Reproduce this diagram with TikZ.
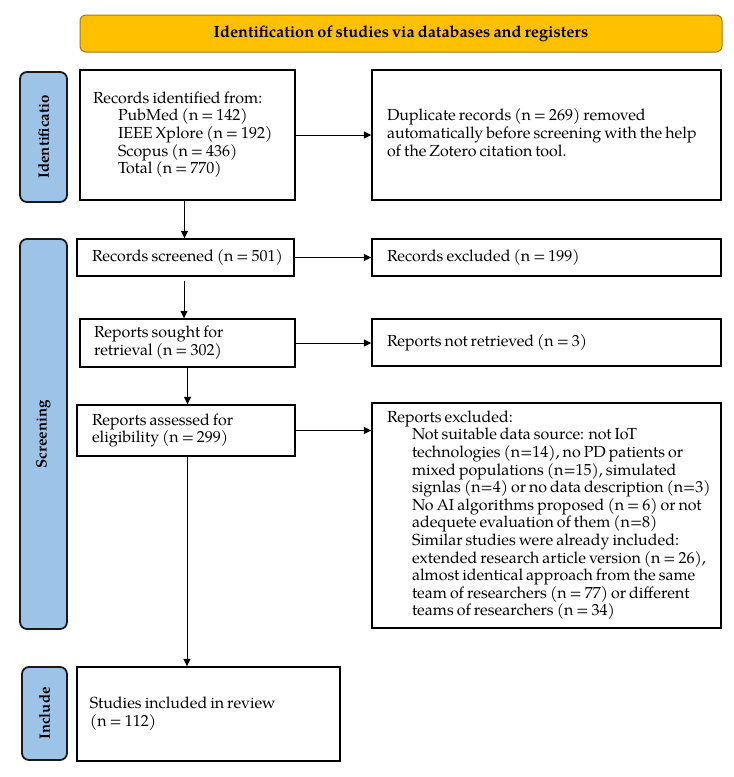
\documentclass[tikz,border=0pt]{standalone}
\usepackage{fontspec}
\setmainfont{texgyrepagella}[Extension=.otf,UprightFont=*-regular,BoldFont=*-bold,ItalicFont=*-italic,BoldItalicFont=*-bolditalic,WordSpace={0.75,0.2,0.2}]
\usetikzlibrary{arrows.meta}
\definecolor{topyellow}{HTML}{FFC000}
\definecolor{topedge}{HTML}{A07A10}
\definecolor{sideblue}{HTML}{9DC3E6}
\definecolor{sideedge}{HTML}{1A1A1A}
\tikzset{
  box/.style={draw=black, line width=1.4pt, fill=white, inner ysep=0pt, inner xsep=0pt,
    font=\fontsize{16}{17.6}\selectfont},
  sidebar/.style={draw=sideedge, fill=sideblue, line width=1.8pt, rounded corners=7pt,
    inner sep=0pt, font=\bfseries\fontsize{15}{17}\selectfont},
  topbar/.style={draw=topedge, fill=topyellow, line width=1pt, rounded corners=6pt,
    inner sep=0pt, font=\bfseries\fontsize{16.3}{18}\selectfont},
  arr/.style={line width=1pt, -{Triangle[length=7.5pt,width=7pt]}},
}
\newcommand{\ind}{\hspace*{25pt}}
% #1 box width, #2 left pad, #3 lines
\newcommand{\tb}[3]{\makebox[#1][l]{\hspace*{#2}\begin{tabular}{@{}l@{}}#3\end{tabular}}}
\begin{document}
\begin{tikzpicture}[x=1pt,y=-1pt]
\useasboundingbox (0,0) rectangle (734,777);
% top bar
\node[topbar, minimum width=642pt, minimum height=37pt] (top) at (401,33.5) {Identification of studies via databases and registers};
% side bars
\node[sidebar, minimum width=47pt, minimum height=130pt] (sid) at (43.5,137) {\rotatebox{90}{Identificatio}};
\node[sidebar, minimum width=47pt, minimum height=390pt] (ssc) at (43.5,434) {\rotatebox{90}{Screening}};
\node[sidebar, minimum width=45pt, minimum height=93pt] (sin) at (44.5,713.5) {\rotatebox{90}{Include}};
% boxes
\node[box, minimum width=215pt, minimum height=130pt] (rec) at (187.5,135)
  {\tb{215pt}{13pt}{Records identified from:\\ \ind PubMed (n = 142)\\ \ind IEEE Xplore (n = 192)\\ \ind Scopus (n = 436)\\ \ind Total (n = 770)}};
\node[box, minimum width=349pt, minimum height=130pt] (dup) at (546.5,135)
  {\tb{349pt}{15pt}{Duplicate records (n = 269) removed\\ automatically before screening with the help\\ of the Zotero citation tool.}};
\node[box, minimum width=217pt, minimum height=37pt] (scr) at (185.5,257.5)
  {\tb{217pt}{15pt}{Records screened (n = 501)}};
\node[box, minimum width=349pt, minimum height=37pt] (rexc) at (546.5,257.5)
  {\tb{349pt}{15pt}{Records excluded (n = 199)}};
\node[box, minimum width=215pt, minimum height=48pt] (sought) at (187.5,343)
  {\tb{215pt}{14pt}{Reports sought for\\ retrieval (n = 302)}};
\node[box, minimum width=349pt, minimum height=47pt] (nret) at (546.5,342.5)
  {\tb{349pt}{15pt}{Reports not retrieved (n = 3)}};
\node[box, minimum width=218pt, minimum height=51pt] (assess) at (186,430.5)
  {\tb{218pt}{15pt}{Reports assessed for\\ eligibility (n = 299)}};
\node[box, minimum width=349pt, minimum height=225pt] (repexc) at (546.5,515.5)
  {\tb{349pt}{15pt}{Reports excluded:\\
   \ind Not suitable data source: not IoT\\
   \ind technologies (n=14), no PD patients or\\
   \ind mixed populations (n=15), simulated\\
   \ind signlas (n=4) or no data description (n=3)\\
   \ind No AI algorithms proposed (n = 6) or not\\
   \ind adequete evaluation of them (n=8)\\
   \ind Similar studies were already included:\\
   \ind extended research article version (n = 26),\\
   \ind almost identical approach from the same\\
   \ind team of researchers (n = 77) or different\\
   \ind teams of researchers (n = 34)}};
\node[box, minimum width=263pt, minimum height=94pt] (incl) at (208.5,714)
  {\raisebox{5pt}{\tb{263pt}{13pt}{Studies included in review\\ (n = 112)}}};
% connectors
\draw[arr] ([xshift=-3pt]rec.south) -- ([xshift=-3pt]rec.south |- scr.north);
\draw[arr] (rec.east) -- (rec.east -| dup.west);
\draw[arr] (scr.east) -- (scr.east -| rexc.west);
\draw[arr, shorten <=4pt] ([xshift=-1.5pt]scr.south) -- ([xshift=-1.5pt]scr.south |- sought.north);
\draw[arr] (sought.east) -- (sought.east -| nret.west);
\draw[arr] (sought.south) -- (sought.south |- assess.north);
\draw[arr] (assess.east) -- (assess.east -| repexc.west);
\draw[arr] ([xshift=1pt]assess.south) -- ([xshift=1pt]assess.south |- incl.north);
\end{tikzpicture}
\end{document}
